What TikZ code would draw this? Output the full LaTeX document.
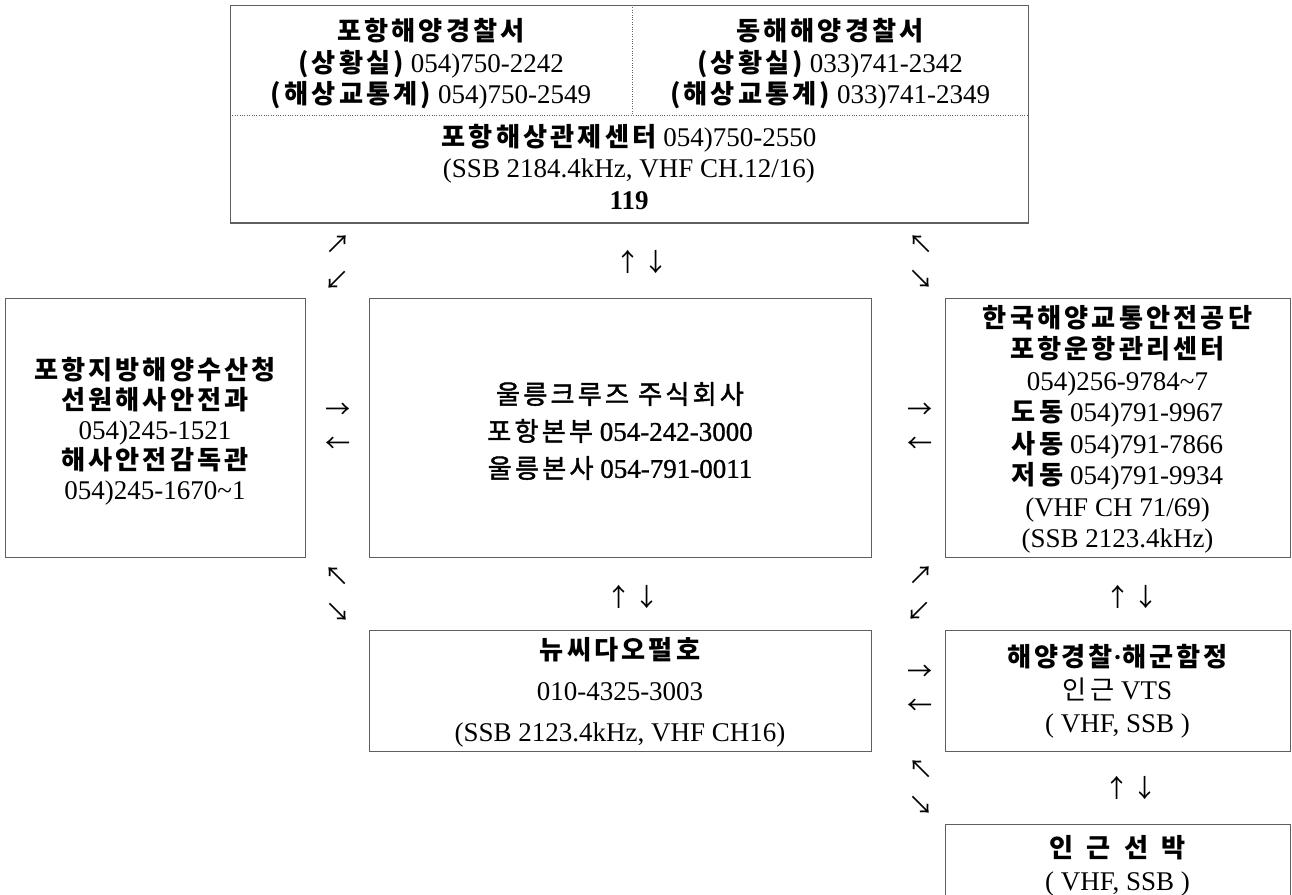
\documentclass[tikz,border=0pt]{standalone}
\usepackage{fontspec}
\setmainfont{Liberation Serif}
\newfontfamily\krf[Scale=0.97,LetterSpace=12]{Noto Sans CJK KR}
\newfontfamily\krarr[Scale=0.93]{Noto Sans CJK KR}
\newfontfamily\krmed[Scale=0.97,LetterSpace=12,FakeBold=1.6]{Noto Sans CJK KR}
\newfontfamily\sermed[FakeBold=1.0]{Liberation Serif}
\newcommand\hk[1]{{\krf #1}}
\newcommand\hkb[1]{{\krf\bfseries #1}}
\newcommand\hkm[1]{{\krmed #1}}
\definecolor{boxgray}{RGB}{95,95,95}
\begin{document}
\begin{tikzpicture}[x=1pt,y=-1pt,
  every node/.style={inner sep=0pt, outer sep=0pt},
  box/.style={draw=boxgray, line width=1pt},
  txt/.style={align=center, font=\fontsize{27}{31.5}\selectfont},
  arr/.style={font=\krarr\fontsize{27}{27}\selectfont},
  divider/.style={draw=boxgray, line width=0.9pt, dash pattern=on 1pt off 1.4pt}]
\useasboundingbox[fill=white] (0,0) rectangle (1292,894);

% top box
\node[box, minimum width=798, minimum height=218] (top) at (629,114) {};
\draw[boxgray, line width=2.2pt] (top.south west) -- (top.south east);
\coordinate (divT) at (632,5);
\coordinate (divB) at (632,115);
\draw[divider] (divT) -- (divB);
\draw[divider] (top.west |- divB) -- (top.east |- divB);
\node[txt] (topL) at (431,64) {\hkb{포항해양경찰서}\\ \hkb{(상황실)} 054)750-2242\\ \hkb{(해상교통계)} 054)750-2549};
\node[txt] (topR) at (830,64) {\hkb{동해해양경찰서}\\ \hkb{(상황실)} 033)741-2342\\ \hkb{(해상교통계)} 033)741-2349};
\node[txt] (topB) at (629,167) {\hkb{포항해상관제센터} 054)750-2550\\ (SSB 2184.4kHz, VHF CH.12/16)\\ \textbf{119}};

% middle row
\node[box, minimum width=300, minimum height=259] (left) at (155,427.5) {};
\node[txt, font=\fontsize{27}{30}\selectfont] (leftT) at (155,431)
  {\hkb{포항지방해양수산청}\\ \hkb{선원해사안전과}\\ 054)245-1521\\ \hkb{해사안전감독관}\\ 054)245-1670\textasciitilde1};
\node[box, minimum width=502, minimum height=259] (mid) at (620,427.5) {};
\node[txt, font=\sermed\fontsize{27}{37}\selectfont] (midT) at (620,431)
  {\hkm{울릉크루즈 주식회사}\\ \hkm{포항본부} 054-242-3000\\ \hkm{울릉본사} 054-791-0011};
\node[box, minimum width=345, minimum height=259] (right) at (1117.5,427.5) {};
\node[txt] (rightT) at (1117.5,429.5)
  {\hkb{한국해양교통안전공단}\\ \hkb{포항운항관리센터}\\ 054)256-9784\textasciitilde7\\ \hkb{도동} 054)791-9967\\ \hkb{사동} 054)791-7866\\ \hkb{저동} 054)791-9934\\ (VHF CH 71/69)\\ (SSB 2123.4kHz)};

% lower row
\node[box, minimum width=502, minimum height=121] (ship) at (620,690.5) {};
\node[txt, font=\fontsize{27}{41}\selectfont] (shipT) at (620,692.5)
  {\hkb{뉴씨다오펄호}\\ 010-4325-3003\\ (SSB 2123.4kHz, VHF CH16)};
\node[box, minimum width=345, minimum height=121] (navy) at (1117.5,690.5) {};
\node[txt, font=\fontsize{27}{33}\selectfont] (navyT) at (1117.5,691.5)
  {\hkb{해양경찰}{\bfseries ·}\hkb{해군함정}\\ \hk{인근} VTS\\ ( VHF, SSB )};
\node[box, minimum width=345, minimum height=110] (near) at (1117.5,879) {};
\node[txt, font=\fontsize{27}{33}\selectfont] (nearT) at (1117.5,865.5)
  {\hkb{인\enspace 근\enspace 선\enspace 박}\\ ( VHF, SSB )};

% arrows (text glyphs)
\node[arr] (a1) at (338,245) {↗};
\node[arr] (a2) at (337,280) {↙};
\node[arr] (a3) at (642,262) {↑\hspace{3pt}↓};
\node[arr] (a4) at (921,245) {↖};
\node[arr] (a5) at (921,279) {↘};
\node[arr] (a6) at (338,411) {→};
\node[arr] (a7) at (338,445) {←};
\node[arr] (a8) at (920,411) {→};
\node[arr] (a9) at (920,445) {←};
\node[arr] (a10) at (337,577) {↖};
\node[arr] (a11) at (338,612) {↘};
\node[arr] (a12) at (633,597) {↑\hspace{3pt}↓};
\node[arr] (a13) at (921,576) {↗};
\node[arr] (a14) at (919,611) {↙};
\node[arr] (a15) at (1132,597) {↑\hspace{3pt}↓};
\node[arr] (a16) at (920,673) {→};
\node[arr] (a17) at (920,707) {←};
\node[arr] (a18) at (921,770) {↖};
\node[arr] (a19) at (921,805) {↘};
\node[arr] (a20) at (1131,788) {↑\hspace{3pt}↓};
\end{tikzpicture}
\end{document}
